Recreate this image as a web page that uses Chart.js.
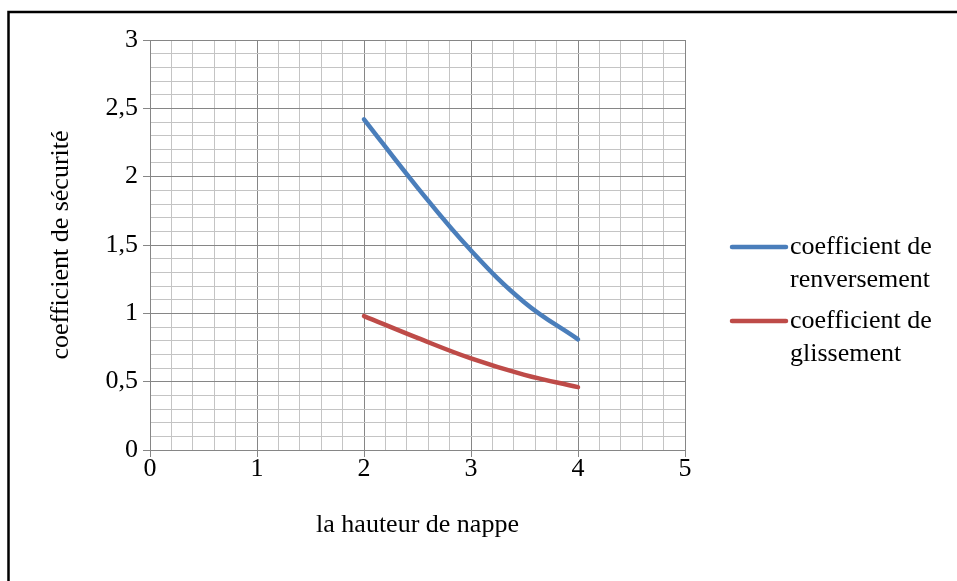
<!DOCTYPE html>
<html>
<head>
<meta charset="utf-8">
<script src="https://cdn.jsdelivr.net/npm/chart.js@4/dist/chart.umd.min.js"></script>
<style>
  html, body { margin: 0; padding: 0; background: #ffffff; }
  #wrap { width: 957px; height: 581px; position: relative; }
</style>
</head>
<body>
<div id="wrap"><canvas id="c" width="957" height="581"></canvas></div>
<script>
// ---- data ----
const hauteur = [2, 2.5, 3, 3.5, 4];                 // la hauteur de nappe
const renversement = [2.42, 1.92, 1.46, 1.08, 0.81];  // coefficient de renversement
const glissement = [0.98, 0.82, 0.67, 0.55, 0.46];    // coefficient de glissement
const seriesNames = ['coefficient de renversement', 'coefficient de glissement'];
const legendLines = [['coefficient de', 'renversement'], ['coefficient de', 'glissement']];
const seriesColors = ['#4A7EBB', '#BE4B48'];
const xTitle = 'la hauteur de nappe';
const yTitle = 'coefficient de sécurité';

const FONT = "'Liberation Serif', 'Times New Roman', serif";
const FS = 26;
const MAJOR = '#868686';
const MINOR = '#c4c4c4';

function isMult(v, m) { const q = v / m; return Math.abs(q - Math.round(q)) < 1e-6; }

const pts = (ys) => hauteur.map((x, i) => ({ x: x, y: ys[i] }));

const frame = {
  id: 'frame',
  beforeDraw(chart) {
    const ctx = chart.ctx;
    ctx.save();
    ctx.fillStyle = '#ffffff';
    ctx.fillRect(0, 0, chart.width, chart.height);
    ctx.strokeStyle = '#000000';
    ctx.lineWidth = 2.5;
    ctx.beginPath();
    ctx.moveTo(8.5, chart.height + 2);
    ctx.lineTo(8.5, 12);
    ctx.lineTo(chart.width + 2, 12);
    ctx.stroke();
    ctx.restore();
  }
};

const legendPlugin = {
  id: 'customLegend',
  afterDraw(chart) {
    const ctx = chart.ctx;
    ctx.save();
    const x0 = 732, x1 = 786, tx = 790;
    const rowY = [247, 321];
    chart.data.datasets.forEach((ds, i) => {
      const y = rowY[i];
      ctx.strokeStyle = ds.borderColor;
      ctx.lineWidth = 4.5;
      ctx.lineCap = 'round';
      ctx.beginPath();
      ctx.moveTo(x0, y);
      ctx.lineTo(x1, y);
      ctx.stroke();
      ctx.fillStyle = '#000000';
      ctx.font = FS + 'px ' + FONT;
      ctx.textBaseline = 'middle';
      ctx.textAlign = 'left';
      legendLines[i].forEach((t, k) => ctx.fillText(t, tx, y + k * 33));
    });
    ctx.restore();
  }
};

new Chart(document.getElementById('c'), {
  type: 'line',
  data: {
    datasets: [
      { label: seriesNames[0], data: pts(renversement), borderColor: seriesColors[0], backgroundColor: seriesColors[0],
        borderWidth: 4.5, pointRadius: 0, tension: 0.4, borderCapStyle: 'round', fill: false },
      { label: seriesNames[1], data: pts(glissement), borderColor: seriesColors[1], backgroundColor: seriesColors[1],
        borderWidth: 4.5, pointRadius: 0, tension: 0.4, borderCapStyle: 'round', fill: false }
    ]
  },
  options: {
    responsive: false,
    animation: false,
    devicePixelRatio: 1,
    layout: { padding: { left: 40, top: 40, right: 272, bottom: 0 } },
    plugins: { legend: { display: false }, tooltip: { enabled: false } },
    scales: {
      x: {
        type: 'linear', min: 0, max: 5,
        afterFit(s) { s.height = 131; },
        ticks: {
          stepSize: 0.2, autoSkip: false, maxRotation: 0, padding: -3,
          color: '#000000', font: { family: FONT, size: FS },
          callback: (v) => isMult(v, 1) ? String(Math.round(v)) : ''
        },
        grid: {
          color: (c) => isMult(c.tick.value, 1) ? MAJOR : MINOR,
          tickColor: (c) => isMult(c.tick.value, 1) ? MAJOR : 'rgba(0,0,0,0)',
          lineWidth: 1, tickLength: 7, drawTicks: true
        },
        border: { color: MAJOR, width: 1 },
        title: { display: true, text: xTitle, color: '#000000', font: { family: FONT, size: FS },
                 padding: { top: 0, bottom: 40 } }
      },
      y: {
        type: 'linear', min: 0, max: 3,
        afterFit(s) { s.width = 110; },
        ticks: {
          stepSize: 0.1, autoSkip: false, padding: 5,
          color: '#000000', font: { family: FONT, size: FS },
          callback: (v) => isMult(v, 0.5) ? String(Math.round(v * 10) / 10).replace('.', ',') : ''
        },
        grid: {
          color: (c) => isMult(c.tick.value, 0.5) ? MAJOR : MINOR,
          tickColor: (c) => isMult(c.tick.value, 0.5) ? MAJOR : 'rgba(0,0,0,0)',
          lineWidth: 1, tickLength: 7, drawTicks: true
        },
        border: { color: MAJOR, width: 1 },
        title: { display: true, text: yTitle, color: '#000000', font: { family: FONT, size: FS },
                 padding: { top: 6, bottom: 0 } }
      }
    }
  },
  plugins: [frame, legendPlugin]
});
</script>
</body>
</html>
